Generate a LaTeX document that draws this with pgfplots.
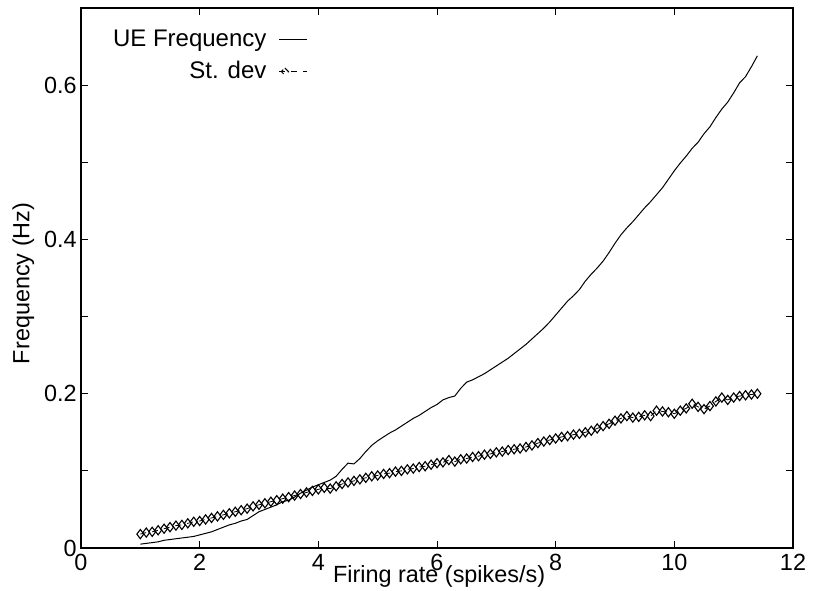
\documentclass[border=0pt]{standalone}
\usepackage{fontspec}
\setmainfont{Liberation Sans}
\usepackage{pgfplots}
\pgfplotsset{compat=1.18}

\pgfplotstableread{
x y
1.0 0.005
1.1 0.006
1.2 0.007
1.3 0.008
1.4 0.010
1.5 0.011
1.6 0.012
1.7 0.013
1.8 0.014
1.9 0.015
2.0 0.017
2.1 0.019
2.2 0.021
2.3 0.024
2.4 0.027
2.5 0.030
2.6 0.032
2.7 0.035
2.8 0.037
2.9 0.042
3.0 0.047
3.1 0.050
3.2 0.053
3.3 0.056
3.4 0.060
3.5 0.062
3.6 0.066
3.7 0.071
3.8 0.075
3.9 0.079
4.0 0.082
4.1 0.085
4.2 0.088
4.3 0.093
4.4 0.102
4.5 0.110
4.6 0.109
4.7 0.116
4.8 0.125
4.9 0.133
5.0 0.139
5.1 0.144
5.2 0.149
5.3 0.153
5.4 0.158
5.5 0.163
5.6 0.168
5.7 0.172
5.8 0.177
5.9 0.182
6.0 0.186
6.1 0.192
6.2 0.195
6.3 0.197
6.4 0.207
6.5 0.215
6.6 0.218
6.7 0.222
6.8 0.226
6.9 0.231
7.0 0.236
7.1 0.241
7.2 0.246
7.3 0.252
7.4 0.258
7.5 0.264
7.6 0.271
7.7 0.278
7.8 0.285
7.9 0.293
8.0 0.302
8.1 0.311
8.2 0.320
8.3 0.327
8.4 0.335
8.5 0.346
8.6 0.355
8.7 0.363
8.8 0.372
8.9 0.383
9.0 0.395
9.1 0.406
9.2 0.415
9.3 0.423
9.4 0.432
9.5 0.441
9.6 0.449
9.7 0.458
9.8 0.467
9.9 0.478
10.0 0.489
10.1 0.499
10.2 0.508
10.3 0.518
10.4 0.526
10.5 0.537
10.6 0.546
10.7 0.558
10.8 0.569
10.9 0.578
11.0 0.590
11.1 0.603
11.2 0.611
11.3 0.624
11.4 0.638
}\uefreq

\pgfplotstableread{
x y
1.0 0.018
1.1 0.020
1.2 0.021
1.3 0.023
1.4 0.025
1.5 0.027
1.6 0.029
1.7 0.030
1.8 0.032
1.9 0.034
2.0 0.035
2.1 0.037
2.2 0.039
2.3 0.041
2.4 0.043
2.5 0.045
2.6 0.047
2.7 0.049
2.8 0.051
2.9 0.054
3.0 0.056
3.1 0.058
3.2 0.060
3.3 0.062
3.4 0.064
3.5 0.066
3.6 0.068
3.7 0.070
3.8 0.072
3.9 0.074
4.0 0.076
4.1 0.078
4.2 0.077
4.3 0.080
4.4 0.083
4.5 0.085
4.6 0.087
4.7 0.089
4.8 0.091
4.9 0.093
5.0 0.094
5.1 0.096
5.2 0.097
5.3 0.099
5.4 0.100
5.5 0.102
5.6 0.103
5.7 0.105
5.8 0.106
5.9 0.108
6.0 0.110
6.1 0.111
6.2 0.114
6.3 0.112
6.4 0.115
6.5 0.116
6.6 0.118
6.7 0.119
6.8 0.121
6.9 0.122
7.0 0.124
7.1 0.125
7.2 0.127
7.3 0.128
7.4 0.129
7.5 0.131
7.6 0.133
7.7 0.136
7.8 0.138
7.9 0.140
8.0 0.142
8.1 0.144
8.2 0.145
8.3 0.147
8.4 0.148
8.5 0.150
8.6 0.152
8.7 0.155
8.8 0.158
8.9 0.161
9.0 0.165
9.1 0.168
9.2 0.171
9.3 0.169
9.4 0.170
9.5 0.172
9.6 0.171
9.7 0.178
9.8 0.177
9.9 0.176
10.0 0.174
10.1 0.178
10.2 0.181
10.3 0.187
10.4 0.183
10.5 0.180
10.6 0.184
10.7 0.190
10.8 0.195
10.9 0.192
11.0 0.195
11.1 0.197
11.2 0.198
11.3 0.199
11.4 0.200
}\stdev

\begin{document}
\begin{tikzpicture}
  % page frame: 813x590 px at 0.5pt per px, axis box at (0,0)
  \useasboundingbox (-40.5pt,-21pt) rectangle (366pt,274pt);
  \begin{axis}[
      at={(0,0)}, anchor=south west,
      scale only axis,
      width=356pt, height=270pt,
      xmin=0, xmax=12, ymin=0, ymax=0.7,
      xtick={0,2,...,12},
      ytick={0,0.1,0.2,0.3,0.4,0.5,0.6},
      yticklabels={0,,0.2,,0.4,,0.6},
      tick align=inside,
      major tick length=3.5pt,
      axis line style={line width=0.7pt},
      tick style={line width=0.5pt, black},
      font=\fontsize{11.7}{13}\selectfont,
      /pgf/number format/assume math mode=true,
      xticklabel style={inner sep=1pt, yshift=-2pt},
      yticklabel style={inner sep=1pt, xshift=-1pt},
      xlabel={Firing rate (spikes/s)},
      ylabel={Frequency (Hz)},
      every axis x label/.style={at={(axis description cs:0.503,-0.063)}, anchor=base},
      every axis y label/.style={at={(axis description cs:-0.081,0.49)}, rotate=90, anchor=center},
      legend style={at={(axis description cs:0.327,0.975)}, anchor=north east,
        draw=none, fill=none, row sep=2pt, column sep=4pt,
        font=\fontsize{12}{13}\selectfont},
      legend plot pos=right,
      legend cell align=right,
    ]
    \addplot[black, line width=0.5pt,
      legend image code/.code={\draw[black, line width=0.5pt] (0pt,0pt) -- (14pt,0pt);}]
      table[x=x, y=y] {\uefreq};
    \addlegendentry{UE Frequency}
    \addplot[black, line width=0.4pt, dashed, mark=diamond,
      mark size=2.3pt, mark options={solid, line width=0.55pt},
      legend image code/.code={
        \draw[black, line width=0.4pt, dashed] (0pt,0pt) -- (14pt,0pt);
        \draw[black, line width=0.5pt] (3pt,1.8pt) -- (4.8pt,0pt) -- (3pt,-1.8pt) -- (1.2pt,0pt) -- cycle;}]
      table[x=x, y=y] {\stdev};
    \addlegendentry{St. dev}
  \end{axis}
\end{tikzpicture}
\end{document}
